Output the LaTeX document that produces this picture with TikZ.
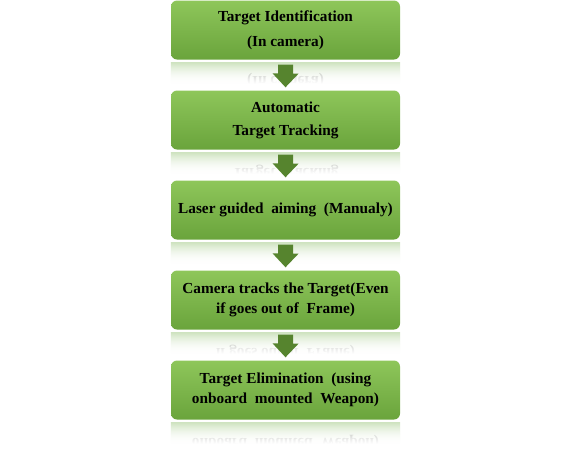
\documentclass[tikz,border=0pt]{standalone}
\usepackage{fontspec}
\setmainfont{Liberation Serif}
\usetikzlibrary{calc,fadings}
\definecolor{boxtop}{RGB}{142,198,90}
\definecolor{boxbot}{RGB}{106,164,60}
\definecolor{arrowgreen}{RGB}{86,132,46}
\definecolor{mirrorgreen}{RGB}{208,228,194}
\tikzset{
  stepbox/.style={rounded corners=6pt, minimum width=229pt, minimum height=59pt, inner sep=0pt,
    top color=boxtop, bottom color=boxbot, align=center, font=\bfseries\fontsize{15.3}{20}\selectfont},
  mirror/.style={top color=mirrorgreen, bottom color=white},
  ghost/.style={yscale=-1, opacity=.3, font=\bfseries\fontsize{15.3}{20}\selectfont}
}
\begin{document}
\begin{tikzpicture}[x=1pt,y=-1pt]
\useasboundingbox (0,0) rectangle (571,459);

\node[stepbox] (ident) at (285.5,30) {Target Identification\\[5pt](In camera)};
\node[stepbox] (track) at (285.5,120) {Automatic\\[3pt]Target Tracking};
\node[stepbox] (laser) at (285.5,210) {Laser guided~~aiming~~(Manualy)};
\node[stepbox] (camera) at (285.5,300) {Camera tracks the Target(Even\\if goes out of~~Frame)};
\node[stepbox] (elim) at (285.5,390) {Target Elimination~~(using\\onboard~~mounted~~Weapon)};

% reflections
\fill[mirror] ($(ident.south west)+(0,3)$) rectangle ($(ident.south east)+(0,24)$);
\begin{scope}
\clip ($(ident.south west)+(0,3)$) rectangle ($(ident.south east)+(0,24)$);
\node[ghost] at ($(ident.south)+(0,20)$) {(In camera)};
\end{scope}
\fill[white, path fading=north] ($(ident.south west)+(0,3)$) rectangle ($(ident.south east)+(0,24)$);

\fill[mirror] ($(track.south west)+(0,3)$) rectangle ($(track.south east)+(0,24)$);
\begin{scope}
\clip ($(track.south west)+(0,3)$) rectangle ($(track.south east)+(0,24)$);
\node[ghost] at ($(track.south)+(0,22)$) {Target Tracking};
\end{scope}
\fill[white, path fading=north] ($(track.south west)+(0,3)$) rectangle ($(track.south east)+(0,24)$);

\fill[mirror] ($(laser.south west)+(0,3)$) rectangle ($(laser.south east)+(0,24)$);
\fill[white, path fading=north] ($(laser.south west)+(0,3)$) rectangle ($(laser.south east)+(0,24)$);

\fill[mirror] ($(camera.south west)+(0,3)$) rectangle ($(camera.south east)+(0,24)$);
\begin{scope}
\clip ($(camera.south west)+(0,3)$) rectangle ($(camera.south east)+(0,24)$);
\node[ghost] at ($(camera.south)+(0,22)$) {if goes out of~~Frame)};
\end{scope}
\fill[white, path fading=north] ($(camera.south west)+(0,3)$) rectangle ($(camera.south east)+(0,24)$);

\fill[mirror] ($(elim.south west)+(0,3)$) rectangle ($(elim.south east)+(0,24)$);
\begin{scope}
\clip ($(elim.south west)+(0,3)$) rectangle ($(elim.south east)+(0,24)$);
\node[ghost] at ($(elim.south)+(0,22)$) {onboard~~mounted~~Weapon)};
\end{scope}
\fill[white, path fading=north] ($(elim.south west)+(0,3)$) rectangle ($(elim.south east)+(0,24)$);

% arrows
\fill[arrowgreen] ($(ident.south)+(-7.5,5)$) -- ++(15,0) -- ++(0,9) -- ++(5.5,0) -- ($(track.north)+(0,-3)$) -- ++(-13,-14) -- ++(5.5,0) -- cycle;
\fill[arrowgreen] ($(track.south)+(-7.5,5)$) -- ++(15,0) -- ++(0,9) -- ++(5.5,0) -- ($(laser.north)+(0,-3)$) -- ++(-13,-14) -- ++(5.5,0) -- cycle;
\fill[arrowgreen] ($(laser.south)+(-7.5,5)$) -- ++(15,0) -- ++(0,9) -- ++(5.5,0) -- ($(camera.north)+(0,-3)$) -- ++(-13,-14) -- ++(5.5,0) -- cycle;
\fill[arrowgreen] ($(camera.south)+(-7.5,5)$) -- ++(15,0) -- ++(0,9) -- ++(5.5,0) -- ($(elim.north)+(0,-3)$) -- ++(-13,-14) -- ++(5.5,0) -- cycle;
\end{tikzpicture}
\end{document}
